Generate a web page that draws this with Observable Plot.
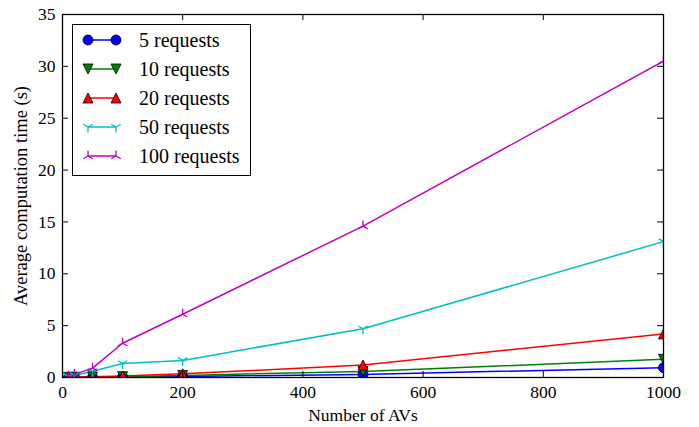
<!DOCTYPE html>
<html><head><meta charset="utf-8">
<script src="https://cdn.jsdelivr.net/npm/d3@7"></script>
<script src="https://cdn.jsdelivr.net/npm/@observablehq/plot@0.6"></script>
<style>
body{margin:0;background:#fff;}
#wrap{position:relative;width:699px;height:427px;}
#wrap svg{font-family:"Liberation Serif","Times New Roman",serif;}
#legend{position:absolute;left:0;top:0;}
</style></head><body><div id="wrap"></div>
<script>
const avs = [10, 20, 50, 100, 200, 500, 1000];
const seriesNames = ["5 requests", "10 requests", "20 requests", "50 requests", "100 requests"];
const req5 = [0.01, 0.02, 0.03, 0.05, 0.1, 0.3, 0.95];
const req10 = [0.01, 0.03, 0.05, 0.08, 0.2, 0.58, 1.75];
const req20 = [0.02, 0.04, 0.08, 0.15, 0.35, 1.2, 4.2];
const req50 = [0.08, 0.2, 0.6, 1.35, 1.65, 4.7, 13.1];
const req100 = [0.12, 0.3, 0.9, 3.3, 6.1, 14.6, 30.5];
const seriesColors = ["#0000ff", "#008000", "#ff0000", "#00bfbf", "#bf00bf"];
const xTicks = [0, 200, 400, 600, 800, 1000];
const yTicks = [0, 5, 10, 15, 20, 25, 30, 35];

const W = 699, H = 427;
const mL = 62, mR = 36, mT = 14, mB = 50;
const plotW = W - mL - mR, plotH = H - mT - mB;
const FONT = '"Liberation Serif","Times New Roman",serif';

function halfOf(size) { return Math.sqrt(size / Math.PI); }
const triDownFilled = {draw(c, size) { const r = halfOf(size); c.moveTo(0, r); c.lineTo(-r, -r); c.lineTo(r, -r); c.closePath(); }};
const triUpFilled = {draw(c, size) { const r = halfOf(size); c.moveTo(0, -r); c.lineTo(-r, r); c.lineTo(r, r); c.closePath(); }};
const triDownLines = {draw(c, size) { const r = halfOf(size); c.moveTo(0, 0); c.lineTo(0, r); c.moveTo(0, 0); c.lineTo(-0.866 * r, -0.5 * r); c.moveTo(0, 0); c.lineTo(0.866 * r, -0.5 * r); }};
const triUpLines = {draw(c, size) { const r = halfOf(size); c.moveTo(0, 0); c.lineTo(0, -r); c.moveTo(0, 0); c.lineTo(-0.866 * r, 0.5 * r); c.moveTo(0, 0); c.lineTo(0.866 * r, 0.5 * r); }};

const seriesValues = [req5, req10, req20, req50, req100];
const seriesSymbols = ["circle", triDownFilled, triUpFilled, triDownLines, triUpLines];
const seriesFilled = [true, true, true, false, false];

const marks = [];
seriesValues.forEach((vals, i) => {
  const rows = avs.map((x, j) => ({x, y: vals[j]}));
  marks.push(Plot.line(rows, {x: "x", y: "y", stroke: seriesColors[i], strokeWidth: 1.5, clip: true}));
});
seriesValues.forEach((vals, i) => {
  const rows = avs.map((x, j) => ({x, y: vals[j]}));
  if (seriesFilled[i]) {
    marks.push(Plot.dot(rows, {x: "x", y: "y", r: 5, symbol: () => seriesSymbols[i], fill: seriesColors[i], stroke: "black", strokeWidth: 0.8, clip: true}));
  } else {
    marks.push(Plot.dot(rows, {x: "x", y: "y", r: 5.5, symbol: () => seriesSymbols[i], fill: "none", stroke: seriesColors[i], strokeWidth: 1.3, clip: true}));
  }
});

const chart = Plot.plot({
  width: W, height: H,
  marginLeft: mL, marginRight: mR, marginTop: mT, marginBottom: mB,
  style: {fontSize: "17.5px", fontFamily: FONT, background: "#fff", color: "black"},
  x: {domain: [0, 1000]},
  y: {domain: [0, 35]},
  symbol: {type: "identity"},
  marks: [
    ...marks,
    Plot.tickX(xTicks, {x: d => d, insetTop: plotH - 6, stroke: "black", strokeWidth: 1}),
    Plot.tickX(xTicks, {x: d => d, insetBottom: plotH - 6, stroke: "black", strokeWidth: 1}),
    Plot.tickY(yTicks, {y: d => d, insetRight: plotW - 6, stroke: "black", strokeWidth: 1}),
    Plot.tickY(yTicks, {y: d => d, insetLeft: plotW - 6, stroke: "black", strokeWidth: 1}),
    Plot.axisX(xTicks, {tickSize: 0, tickPadding: 8.5, tickFormat: d => String(d), label: null, fill: "black"}),
    Plot.axisY(yTicks, {tickSize: 0, tickPadding: 7, tickFormat: d => String(d), label: null, fill: "black"}),
    Plot.frame({stroke: "black", strokeWidth: 1.3}),
    Plot.text(["Number of AVs"], {frameAnchor: "bottom", lineAnchor: "middle", textAnchor: "middle", dy: 38, text: d => d, fill: "black", fontSize: 17.5}),
    Plot.text(["Average computation time (s)"], {frameAnchor: "left", lineAnchor: "middle", textAnchor: "middle", dx: -41, rotate: -90, text: d => d, fill: "black", fontSize: 18.5})
  ]
});
const wrap = document.getElementById("wrap");
wrap.appendChild(chart);

// Legend overlay
const lg = d3.select(wrap).append("svg").attr("id", "legend").attr("width", W).attr("height", H)
  .style("font-family", FONT).style("font-size", "20px");
lg.append("rect").attr("x", 72.5).attr("y", 24.5).attr("width", 178).attr("height", 151)
  .attr("fill", "white").attr("stroke", "black").attr("stroke-width", 1);
const rowY = d3.scalePoint().domain(seriesNames).range([40, 156]);
seriesNames.forEach((name, i) => {
  const g = lg.append("g").attr("transform", `translate(0,${rowY(name)})`);
  g.append("line").attr("x1", 88).attr("x2", 116).attr("y1", 0).attr("y2", 0)
    .attr("stroke", seriesColors[i]).attr("stroke-width", 1.5);
  const sym = typeof seriesSymbols[i] === "string" ? d3.symbolCircle : seriesSymbols[i];
  const r = seriesFilled[i] ? 5 : 5.5;
  const p = d3.symbol(sym, r * r * Math.PI)();
  [88, 116].forEach(x => {
    const m = g.append("path").attr("d", p).attr("transform", `translate(${x},0)`);
    if (seriesFilled[i]) m.attr("fill", seriesColors[i]).attr("stroke", "black").attr("stroke-width", 0.8);
    else m.attr("fill", "none").attr("stroke", seriesColors[i]).attr("stroke-width", 1.3);
  });
  g.append("text").attr("x", 139).attr("y", 0).attr("dy", "0.35em").attr("fill", "black").text(name);
});
</script></body></html>
